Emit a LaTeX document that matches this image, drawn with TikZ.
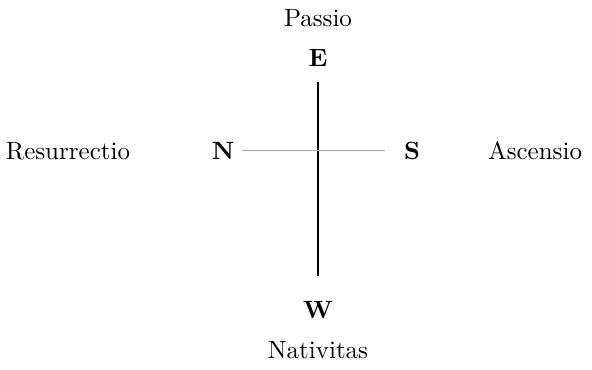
\documentclass[tikz,border=0pt]{standalone}
\usepackage{amsmath, amssymb}
\usepackage{tikz}
\usetikzlibrary{calc}

\begin{document}
\begin{tikzpicture}[x=0.4pt, y=-0.4pt,
    pole/.style={font=\bfseries, inner sep=2pt},
    feast/.style={inner sep=2pt}]
      % 1. 框
      \useasboundingbox (0,0) rectangle (592,370);

      % 2. 四極
      \node[pole] (E) at (318,58) {E};
      \node[pole] (W) at (318,310) {W};
      \node[pole] (N) at (223,151) {N};
      \node[pole] (S) at (412,151) {S};

      % 3. 四節
      \node[feast] (passio) at (318,18) {Passio};
      \node[feast] (nativitas) at (318,350) {Nativitas};
      \node[feast] (resurrectio) at (68,151) {Resurrectio};
      \node[feast] (ascensio) at (535,151) {Ascensio};

      % 4. 十字
      \draw[black, semithick, shorten <=4pt, shorten >=8pt] (E) -- (W);
      \draw[gray!70, thin, shorten <=1pt, shorten >=5.4pt] (N) -- (S);
\end{tikzpicture}
\end{document}
